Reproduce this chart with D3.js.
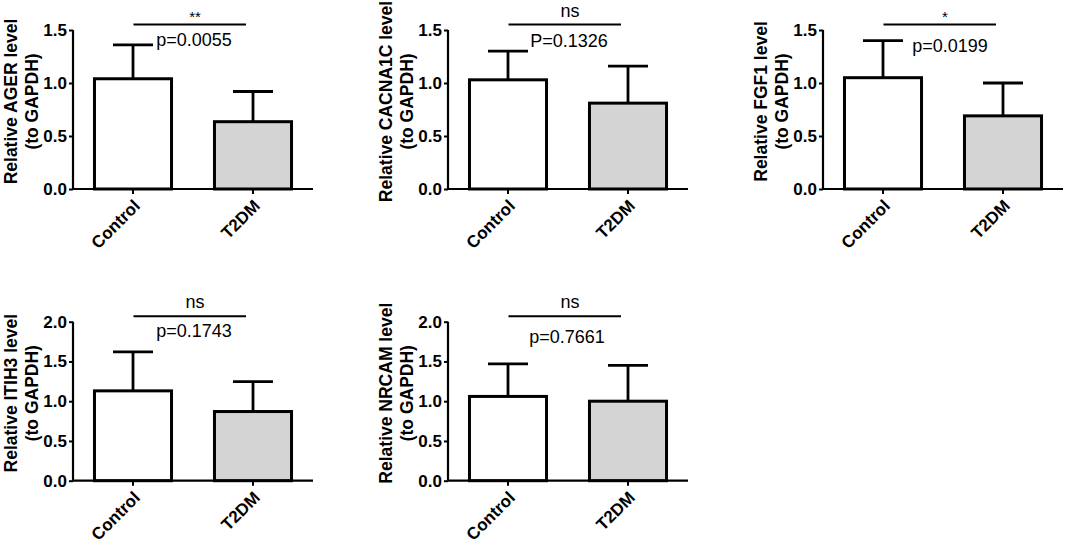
<!DOCTYPE html>
<html>
<head>
<meta charset="utf-8">
<script src="https://cdn.jsdelivr.net/npm/d3@7"></script>
<style>
  body { margin: 0; background: #fff; }
  svg text { font-family: Arial, "Liberation Sans", sans-serif; fill: #000; }
</style>
</head>
<body>
<div id="graph-col"></div>
<script>

var genes = ['AGER', 'CACNA1C', 'FGF1', 'ITIH3', 'NRCAM'];
var groups = ['Control', 'T2DM'];
var meanControl = [1.04, 1.03, 1.05, 1.13, 1.06];
var meanT2DM = [0.635, 0.81, 0.69, 0.87, 1.0];
var sdControl = [0.32, 0.27, 0.35, 0.49, 0.41];
var sdT2DM = [0.285, 0.35, 0.31, 0.375, 0.45];
var yMax = [1.5, 1.5, 1.5, 2.0, 2.0];
var pLabels = ['p=0.0055', 'P=0.1326', 'p=0.0199', 'p=0.1743', 'p=0.7661'];
var sigLabels = ['**', 'ns', '*', 'ns', 'ns'];

// panel placement, in pixels
var colX = [73, 448, 823];
var rowTop = [30, 321.7];
var rowBottom = [189, 480.7];
var pShift = [[0, 21], [0, 22], [6, 27], [0, 21], [-2, 27]];
var fills = ['#ffffff', '#d4d4d4'];

var svg = d3.select('#graph-col')
    .append('svg')
    .attr('width', 1065)
    .attr('height', 540);

svg.append('rect')
    .attr('width', 1065)
    .attr('height', 540)
    .attr('fill', '#fff');

var drawPanel = function(i) {
	var col = i % 3;
	var row = Math.floor(i / 3);
	var g = svg.append('g')
	    .attr('transform', 'translate(' + colX[col] + ',0)');

	var x = d3.scaleBand()
	    .domain(groups)
	    .range([0, 240])
	    .paddingInner(0.358)
	    .paddingOuter(0.179);

	var y = d3.scaleLinear()
	    .domain([0, yMax[i]])
	    .range([rowBottom[row], rowTop[row]]);

	var means = [meanControl[i], meanT2DM[i]];
	var sds = [sdControl[i], sdT2DM[i]];

	// error bars (drawn first, bar covers lower part)
	groups.forEach(function(grp, k) {
		var cx = x(grp) + x.bandwidth() / 2;
		g.append('line')
		    .attr('x1', cx).attr('x2', cx)
		    .attr('y1', y(means[k])).attr('y2', y(means[k] + sds[k]))
		    .attr('stroke', '#000').attr('stroke-width', 2.8);
		g.append('line')
		    .attr('x1', cx - 20).attr('x2', cx + 20)
		    .attr('y1', y(means[k] + sds[k])).attr('y2', y(means[k] + sds[k]))
		    .attr('stroke', '#000').attr('stroke-width', 2.8);
	});

	g.selectAll('rect.bar')
	    .data(groups)
	    .enter()
	    .append('rect')
	    .attr('class', 'bar')
	    .attr('x', function(d) { return x(d); })
	    .attr('width', x.bandwidth())
	    .attr('y', function(d, k) { return y(means[k]); })
	    .attr('height', function(d, k) { return y(0) - y(means[k]); })
	    .attr('fill', function(d, k) { return fills[k]; })
	    .attr('stroke', '#000')
	    .attr('stroke-width', 3);

	// y axis
	var yAxis = d3.axisLeft(y)
	    .ticks(yMax[i] / 0.5)
	    .tickFormat(d3.format('.1f'))
	    .tickSize(4)
	    .tickPadding(2);
	var ya = g.append('g').call(yAxis);
	ya.select('.domain').attr('d', 'M0,' + y(0) + 'V' + y(yMax[i])).attr('stroke-width', 2.2);
	ya.selectAll('.tick line').attr('stroke-width', 2);
	ya.selectAll('.tick text')
	    .style('font-size', '17px')
	    .style('font-weight', 'bold');

	// x axis
	var xAxis = d3.axisBottom(x)
	    .tickSize(5)
	    .tickSizeOuter(0);
	var xa = g.append('g')
	    .attr('transform', 'translate(0,' + y(0) + ')')
	    .call(xAxis);
	xa.select('.domain').attr('d', 'M0,0H240').attr('stroke-width', 2.2);
	xa.selectAll('.tick line').attr('stroke-width', 2);
	xa.selectAll('.tick text')
	    .style('font-size', '17px')
	    .style('font-weight', 'bold')
	    .attr('text-anchor', 'end')
	    .attr('y', 0)
	    .attr('dy', 0)
	    .attr('transform', 'translate(8,18) rotate(-45)');

	// y label
	var midY = (y(0) + y(yMax[i])) / 2 - 8;
	var lab = g.append('text')
	    .attr('transform', 'translate(-56,' + midY + ') rotate(-90)')
	    .attr('text-anchor', 'middle')
	    .style('font-size', '17.5px')
	    .style('font-weight', 'bold');
	lab.append('tspan').attr('x', 0).attr('dy', 0).text('Relative ' + genes[i] + ' level');
	lab.append('tspan').attr('x', 0).attr('dy', 21).text('(to GAPDH)');

	// significance bracket
	var c0 = x(groups[0]) + x.bandwidth() / 2;
	var c1 = x(groups[1]) + x.bandwidth() / 2;
	var lineY = y(yMax[i]) - 5.5;
	g.append('line')
	    .attr('x1', c0 + 0.5).attr('x2', c1 - 7)
	    .attr('y1', lineY).attr('y2', lineY)
	    .attr('stroke', '#000').attr('stroke-width', 2);

	var isStar = sigLabels[i].indexOf('*') >= 0;
	g.append('text')
	    .attr('x', (c0 + c1) / 2 + 2)
	    .attr('y', isStar ? lineY - 3 : lineY - 8)
	    .attr('text-anchor', 'middle')
	    .style('font-size', isStar ? '15px' : '18px')
	    .text(sigLabels[i]);

	g.append('text')
	    .attr('x', (c0 + c1) / 2 + 1 + pShift[i][0])
	    .attr('y', lineY + pShift[i][1])
	    .attr('text-anchor', 'middle')
	    .style('font-size', '18px')
	    .text(pLabels[i]);
};

genes.forEach(function(gene, i) {
	drawPanel(i);
});

</script>
</body>
</html>
